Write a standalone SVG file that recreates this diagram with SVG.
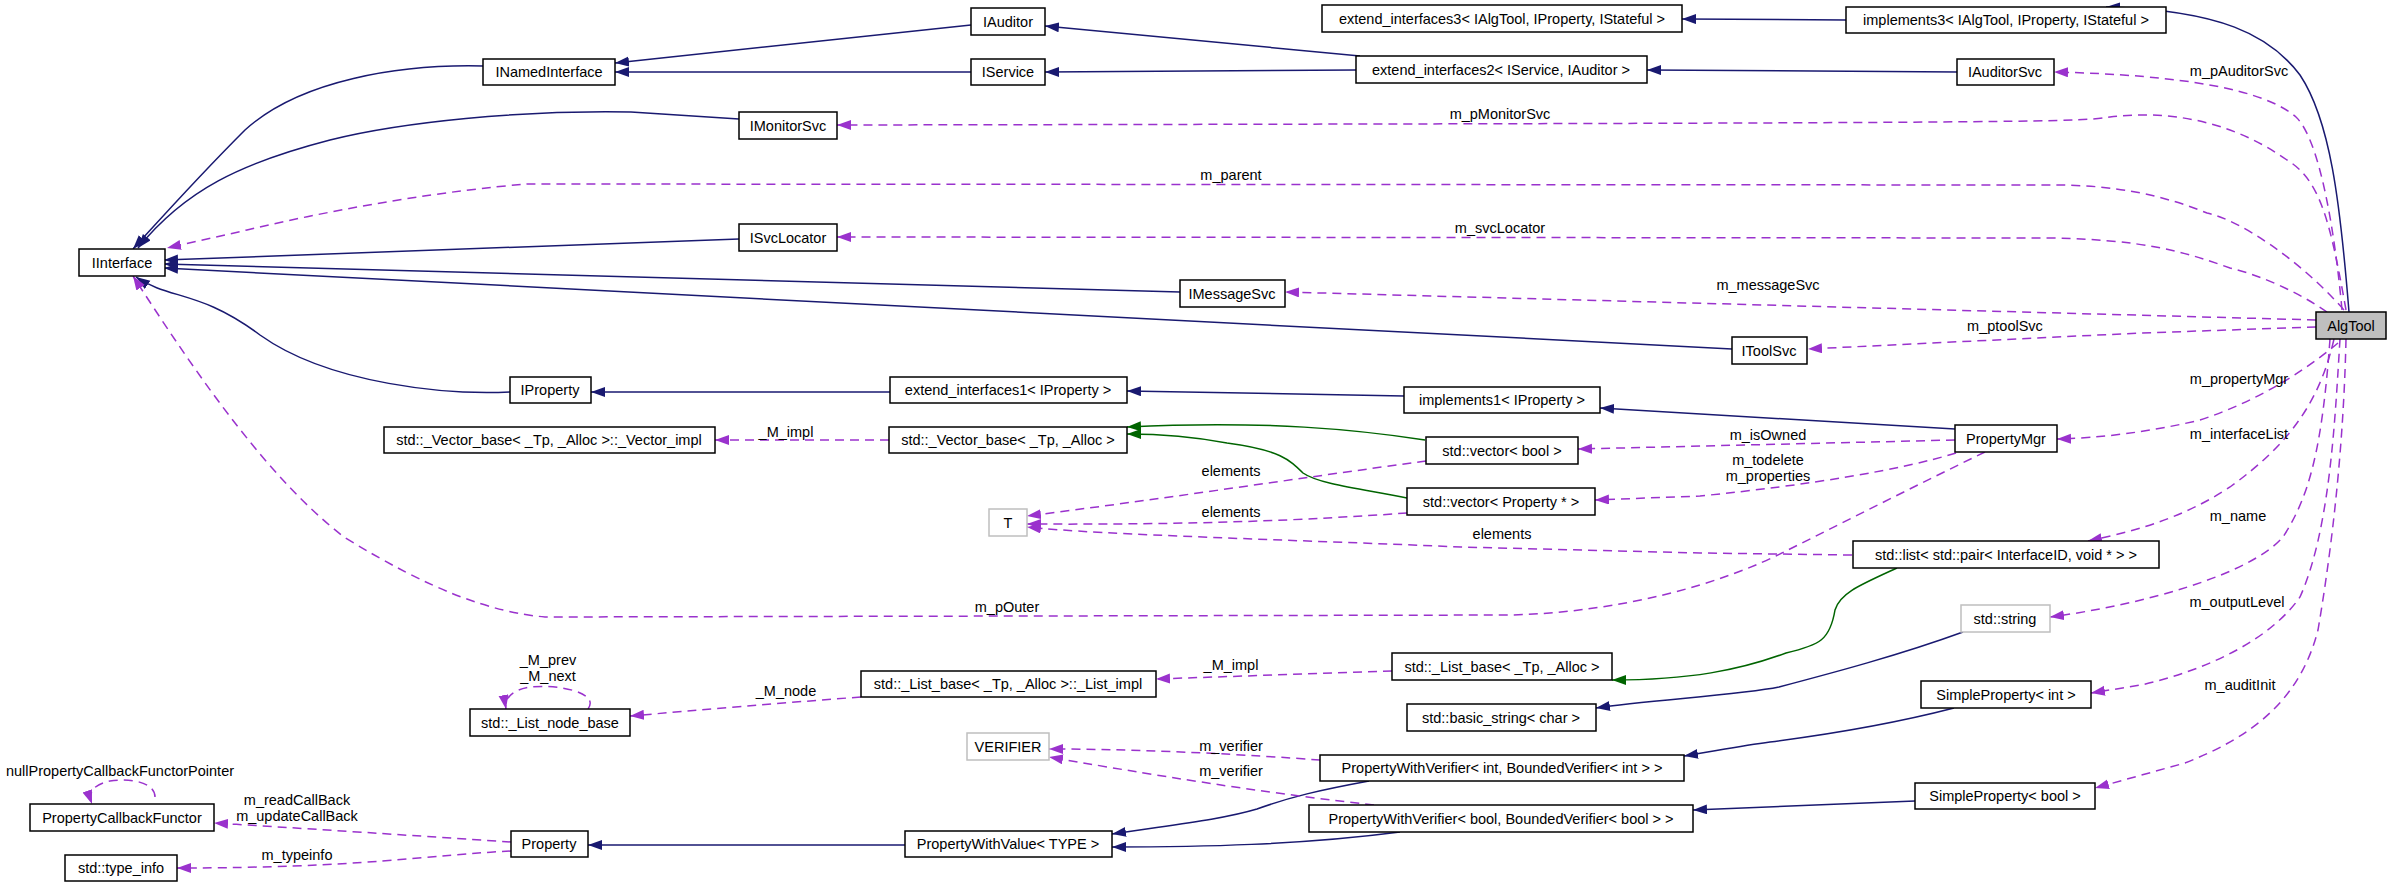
<svg xmlns="http://www.w3.org/2000/svg" width="2392" height="887" viewBox="0 0 2392 887">
<style>
rect{fill:#fff;stroke:#000;stroke-width:1.5}
rect.g{stroke:#bfbfbf}
rect.a{fill:#bfbfbf}
text{font-family:"Liberation Sans",Arial,sans-serif;font-size:14.5px;fill:#000;text-anchor:middle}
.e path{fill:none;stroke-width:1.5}
.i{stroke:#191970;marker-end:url(#ai)}
.t{stroke:#006400;marker-end:url(#at)}
.u{stroke:#9a32cd;stroke-dasharray:9,6;marker-end:url(#au)}
</style>
<defs>
<marker id="ai" markerUnits="userSpaceOnUse" markerWidth="15" markerHeight="11" refX="14" refY="5" orient="auto"><path d="M0,0L14,5L0,10z" fill="#191970"/></marker>
<marker id="at" markerUnits="userSpaceOnUse" markerWidth="15" markerHeight="11" refX="14" refY="5" orient="auto"><path d="M0,0L14,5L0,10z" fill="#006400"/></marker>
<marker id="au" markerUnits="userSpaceOnUse" markerWidth="15" markerHeight="11" refX="14" refY="5" orient="auto"><path d="M0,0L14,5L0,10z" fill="#9a32cd"/></marker>
</defs>
<rect x="0" y="0" width="2392" height="887" style="stroke:none"/>
<g class="e" id="edges">
<path class="i" d="M483,66 C400,64 300,80 245,130 C195,180 155,225 133,249"/>
<path class="i" d="M739,119 L631,112 C520,110 402,122 330,140 C241,163 185,190 138,248"/>
<path class="i" d="M739,239 L164,260"/>
<path class="i" d="M1180,292 L164,264"/>
<path class="i" d="M1732,349 L164,268"/>
<path class="i" d="M510,392 C450,395 330,385 260,335 C200,290 170,300 136,277"/>
<path class="i" d="M971,25 L615,63"/>
<path class="i" d="M971,72 L615,72"/>
<path class="i" d="M1360,56 L1045,26"/>
<path class="i" d="M1356,70 L1045,72"/>
<path class="i" d="M1846,20 L1682,19"/>
<path class="i" d="M1957,72 L1647,70"/>
<path class="i" d="M2349,312 C2340,200 2330,120 2300,75 C2270,35 2220,10 2106,7"/>
<path class="i" d="M1955,429 L1600,408"/>
<path class="i" d="M1404,396 L1127,391"/>
<path class="i" d="M890,392 L591,392"/>
<path class="i" d="M1369,781 C1320,790 1290,797 1257,809 C1220,820 1170,825 1112,834"/>
<path class="i" d="M1400,832 C1300,845 1200,847 1112,847"/>
<path class="i" d="M905,845 L588,845"/>
<path class="i" d="M1954,708 C1900,722 1832,734 1770,742 C1740,746 1710,752 1684,756"/>
<path class="i" d="M1915,801 L1693,810"/>
<path class="i" d="M1963,632 C1900,655 1832,673 1779,687 C1740,695 1650,700 1596,708"/>
<path class="t" d="M1425,440 C1360,430 1267,420 1127,427"/>
<path class="t" d="M1407,498 C1370,490 1320,485 1303,473 C1290,460 1280,450 1227,443 C1190,436 1160,434 1127,434"/>
<path class="t" d="M1897,568 C1860,585 1840,593 1835,610 C1830,640 1820,645 1786,653 C1740,670 1690,680 1612,680"/>
<path class="u" d="M2342,310 C2335,233 2320,140 2296,117 C2265,90 2185,75 2054,72"/>
<path class="u" d="M2346,310 C2330,220 2320,180 2287,160 C2230,120 2168,110 2110,117 C2080,122 2053,123 837,125"/>
<path class="u" d="M2344,310 C2300,260 2240,220 2207,213 C2150,190 2100,185 2053,185 L528,184 C450,190 344,207 247,230 L167,248"/>
<path class="u" d="M2327,312 C2300,293 2260,275 2230,268 C2180,250 2141,240 2053,238 L837,237"/>
<path class="u" d="M2316,320 L1285,292"/>
<path class="u" d="M2316,327 L2141,333 L1808,349"/>
<path class="u" d="M2338,343 C2300,375 2252,403 2200,420 C2150,432 2100,438 2057,439"/>
<path class="u" d="M1955,440 L1578,449"/>
<path class="u" d="M1956,453 C1900,470 1810,485 1700,496 L1595,500"/>
<path class="u" d="M1426,461 C1300,478 1155,500 1027,516"/>
<path class="u" d="M1407,513 C1308,520 1200,525 1027,524"/>
<path class="u" d="M1852,555 L1700,553 L1461,547 C1300,540 1100,535 1027,527"/>
<path class="u" d="M1985,452 C1921,483 1854,517 1788,550 C1720,585 1620,612 1512,615 L545,617 C490,612 430,590 344,537 C270,480 200,380 133,276"/>
<path class="u" d="M2334,339 C2320,400 2291,443 2230,487 C2180,520 2130,532 2088,541"/>
<path class="u" d="M2330,339 C2322,450 2309,497 2283,537 C2250,575 2141,605 2050,617"/>
<path class="u" d="M2340,339 C2335,420 2330,530 2300,597 C2270,640 2207,670 2141,685 L2091,693"/>
<path class="u" d="M2346,339 C2344,430 2335,530 2318,630 C2300,700 2252,737 2185,763 L2095,788"/>
<path class="u" d="M889,440 L715,440"/>
<path class="u" d="M1392,671 L1156,679"/>
<path class="u" d="M861,697 C780,703 700,710 630,716"/>
<path class="u" d="M588,709 C600,693 560,684 530,687 C512,690 504,698 506,709"/>
<path class="u" d="M155,797 C155,782 130,778 110,781 C92,785 88,793 92,804"/>
<path class="u" d="M511,842 C450,838 330,830 214,823"/>
<path class="u" d="M511,851 C430,855 360,868 177,868"/>
<path class="u" d="M1320,760 C1250,755 1150,749 1049,749"/>
<path class="u" d="M1374,805 C1283,795 1181,780 1049,757"/>
</g>
<g id="labels">
<text x="2239" y="76">m_pAuditorSvc</text>
<text x="1500" y="119">m_pMonitorSvc</text>
<text x="1231" y="180">m_parent</text>
<text x="1500" y="233">m_svcLocator</text>
<text x="1768" y="290">m_messageSvc</text>
<text x="2005" y="331">m_ptoolSvc</text>
<text x="2239" y="384">m_propertyMgr</text>
<text x="1768" y="440">m_isOwned</text>
<text x="1768" y="465">m_todelete</text>
<text x="1768" y="481">m_properties</text>
<text x="1231" y="476">elements</text>
<text x="1231" y="517">elements</text>
<text x="1502" y="539">elements</text>
<text x="1007" y="612">m_pOuter</text>
<text x="2239" y="439">m_interfaceList</text>
<text x="2238" y="521">m_name</text>
<text x="2237" y="607">m_outputLevel</text>
<text x="2240" y="690">m_auditInit</text>
<text x="786" y="437">_M_impl</text>
<text x="1231" y="670">_M_impl</text>
<text x="786" y="696">_M_node</text>
<text x="548" y="665">_M_prev</text>
<text x="548" y="681">_M_next</text>
<text x="120" y="776">nullPropertyCallbackFunctorPointer</text>
<text x="297" y="805">m_readCallBack</text>
<text x="297" y="821">m_updateCallBack</text>
<text x="297" y="860">m_typeinfo</text>
<text x="1231" y="751">m_verifier</text>
<text x="1231" y="776">m_verifier</text>
</g>
<g id="n_AlgTool"><rect class="a" x="2316" y="312" width="70" height="27"/><text x="2351" y="331">AlgTool</text></g>
<g id="n_IInterface"><rect x="79" y="249" width="86" height="27"/><text x="122" y="268">IInterface</text></g>
<g id="n_INamedInterface"><rect x="483" y="59" width="132" height="26"/><text x="549" y="77">INamedInterface</text></g>
<g id="n_IMonitorSvc"><rect x="739" y="112" width="98" height="27"/><text x="788" y="131">IMonitorSvc</text></g>
<g id="n_ISvcLocator"><rect x="739" y="224" width="98" height="27"/><text x="788" y="243">ISvcLocator</text></g>
<g id="n_IProperty"><rect x="510" y="377" width="81" height="26"/><text x="550" y="395">IProperty</text></g>
<g id="n_Vector_impl"><rect x="384" y="427" width="331" height="26"/><text x="549" y="445">std::_Vector_base&lt; _Tp, _Alloc &gt;::_Vector_impl</text></g>
<g id="n_IAuditor"><rect x="971" y="8" width="74" height="27"/><text x="1008" y="27">IAuditor</text></g>
<g id="n_IService"><rect x="971" y="59" width="74" height="26"/><text x="1008" y="77">IService</text></g>
<g id="n_ext3"><rect x="1322" y="5" width="360" height="27"/><text x="1502" y="24">extend_interfaces3&lt; IAlgTool, IProperty, IStateful &gt;</text></g>
<g id="n_ext2"><rect x="1356" y="56" width="291" height="27"/><text x="1501" y="75">extend_interfaces2&lt; IService, IAuditor &gt;</text></g>
<g id="n_IMessageSvc"><rect x="1180" y="280" width="105" height="27"/><text x="1232" y="299">IMessageSvc</text></g>
<g id="n_ext1"><rect x="890" y="377" width="237" height="26"/><text x="1008" y="395">extend_interfaces1&lt; IProperty &gt;</text></g>
<g id="n_impl1"><rect x="1404" y="387" width="196" height="26"/><text x="1502" y="405">implements1&lt; IProperty &gt;</text></g>
<g id="n_Vector_base"><rect x="889" y="427" width="238" height="26"/><text x="1008" y="445">std::_Vector_base&lt; _Tp, _Alloc &gt;</text></g>
<g id="n_vbool"><rect x="1426" y="437" width="152" height="27"/><text x="1502" y="456">std::vector&lt; bool &gt;</text></g>
<g id="n_impl3"><rect x="1846" y="7" width="320" height="26"/><text x="2006" y="25">implements3&lt; IAlgTool, IProperty, IStateful &gt;</text></g>
<g id="n_IAuditorSvc"><rect x="1957" y="59" width="97" height="26"/><text x="2005" y="77">IAuditorSvc</text></g>
<g id="n_IToolSvc"><rect x="1732" y="337" width="75" height="27"/><text x="1769" y="356">IToolSvc</text></g>
<g id="n_PropertyMgr"><rect x="1955" y="425" width="102" height="27"/><text x="2006" y="444">PropertyMgr</text></g>
<g id="n_vprop"><rect x="1407" y="488" width="188" height="27"/><text x="1501" y="507">std::vector&lt; Property * &gt;</text></g>
<g id="n_T"><rect class="g" x="989" y="509" width="38" height="27"/><text x="1008" y="528">T</text></g>
<g id="n_List_base"><rect x="1392" y="653" width="220" height="27"/><text x="1502" y="672">std::_List_base&lt; _Tp, _Alloc &gt;</text></g>
<g id="n_List_impl"><rect x="861" y="671" width="295" height="26"/><text x="1008" y="689">std::_List_base&lt; _Tp, _Alloc &gt;::_List_impl</text></g>
<g id="n_basic_string"><rect x="1407" y="704" width="189" height="27"/><text x="1501" y="723">std::basic_string&lt; char &gt;</text></g>
<g id="n_VERIFIER"><rect class="g" x="967" y="733" width="82" height="27"/><text x="1008" y="752">VERIFIER</text></g>
<g id="n_PWVint"><rect x="1320" y="755" width="364" height="26"/><text x="1502" y="773">PropertyWithVerifier&lt; int, BoundedVerifier&lt; int &gt; &gt;</text></g>
<g id="n_PWVbool"><rect x="1309" y="805" width="384" height="27"/><text x="1501" y="824">PropertyWithVerifier&lt; bool, BoundedVerifier&lt; bool &gt; &gt;</text></g>
<g id="n_PropertyWithValue"><rect x="905" y="831" width="207" height="26"/><text x="1008" y="849">PropertyWithValue&lt; TYPE &gt;</text></g>
<g id="n_List_node_base"><rect x="470" y="709" width="160" height="27"/><text x="550" y="728">std::_List_node_base</text></g>
<g id="n_PCF"><rect x="30" y="804" width="184" height="27"/><text x="122" y="823">PropertyCallbackFunctor</text></g>
<g id="n_Property"><rect x="511" y="831" width="77" height="26"/><text x="549" y="849">Property</text></g>
<g id="n_type_info"><rect x="65" y="855" width="112" height="26"/><text x="121" y="873">std::type_info</text></g>
<g id="n_list"><rect x="1853" y="541" width="306" height="27"/><text x="2006" y="560">std::list&lt; std::pair&lt; InterfaceID, void * &gt; &gt;</text></g>
<g id="n_string"><rect class="g" x="1961" y="605" width="89" height="27"/><text x="2005" y="624">std::string</text></g>
<g id="n_SPint"><rect x="1921" y="681" width="170" height="27"/><text x="2006" y="700">SimpleProperty&lt; int &gt;</text></g>
<g id="n_SPbool"><rect x="1915" y="783" width="180" height="26"/><text x="2005" y="801">SimpleProperty&lt; bool &gt;</text></g>
</svg>
